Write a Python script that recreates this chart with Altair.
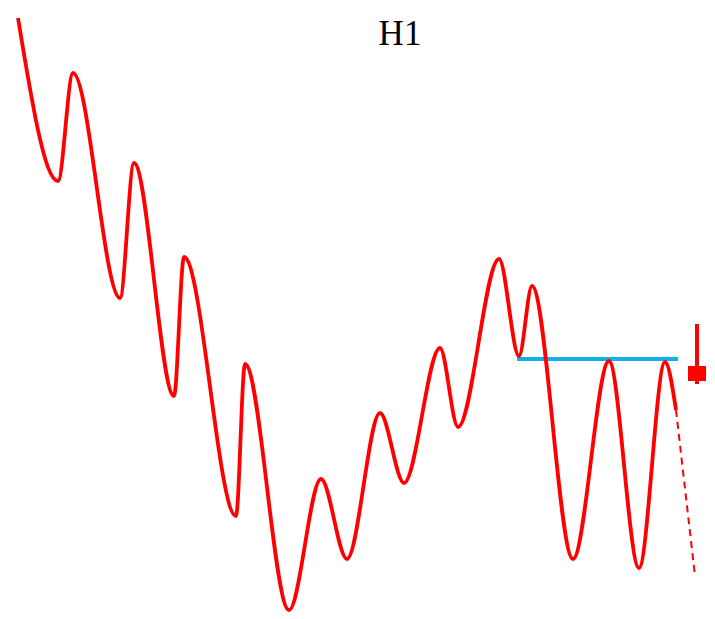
import altair as alt
import pandas as pd

# Pivot points of the price path (x = time position, y = price level, screen-like units)
path_x = [18, 58, 73, 120, 134, 174, 184, 236, 245, 289, 321, 347, 380, 404, 440, 458, 499, 519, 532, 573, 609, 639, 665, 676]
path_y = [18, 181, 73, 298, 163, 396, 257, 516, 364, 610, 479, 559, 413, 483, 348, 427, 259, 356, 286, 559, 361, 568, 362, 410]

# Projected (dashed) continuation
proj_x = [676, 695]
proj_y = [410, 576]

# Neckline level
neck_x = [517, 678]
neck_y = [359, 359]

# Sell candle marker
candle_x = [697]
candle_high = [324]
candle_low = [384]
candle_open = [366]
candle_close = [381]

W, H = 699, 600
xs = alt.Scale(domain=[8, 8 + W], nice=False, zero=False)
ys = alt.Scale(domain=[8 + H, 8], nice=False, zero=False)

path_df = pd.DataFrame({"x": path_x, "y": path_y, "o": range(len(path_x))})
proj_df = pd.DataFrame({"x": proj_x, "y": proj_y, "o": range(len(proj_x))})
neck_df = pd.DataFrame({"x": neck_x, "y": neck_y})
candle_df = pd.DataFrame({"x": candle_x, "hi": candle_high, "lo": candle_low,
                          "op": candle_open, "cl": candle_close,
                          "x1": [c - 9 for c in candle_x], "x2": [c + 9 for c in candle_x]})
title_df = pd.DataFrame({"x": [400], "y": [34], "t": ["H1"]})

X = lambda f: alt.X(f, type="quantitative", scale=xs, axis=None)
Y = lambda f: alt.Y(f, type="quantitative", scale=ys, axis=None)

line = alt.Chart(path_df).mark_line(color="#ff0000", strokeWidth=3.8, interpolate="monotone").encode(
    x=X("x"), y=Y("y"), order="o:Q")
proj = alt.Chart(proj_df).mark_line(color="#ff0000", strokeWidth=2, strokeDash=[7, 5]).encode(
    x=X("x"), y=Y("y"), order="o:Q")
neck = alt.Chart(neck_df).mark_line(color="#14aee8", strokeWidth=4).encode(x=X("x"), y=Y("y"))
wick = alt.Chart(candle_df).mark_rule(color="#ff0000", strokeWidth=4).encode(
    x=X("x"), y=Y("hi"), y2="lo")
body = alt.Chart(candle_df).mark_rect(color="#ff0000").encode(
    x=X("x1"), x2="x2", y=Y("op"), y2="cl")
title = alt.Chart(title_df).mark_text(font="'Liberation Serif', 'Times New Roman', 'DejaVu Serif', serif",
                                      fontSize=35, color="#000000",
                                      baseline="middle", align="center").encode(
    x=X("x"), y=Y("y"), text="t")

chart = alt.layer(neck, line, proj, wick, body, title).properties(
    width=W, height=H, padding={"left": 0, "top": 0, "right": 0, "bottom": 6},
    autosize=alt.AutoSizeParams(type="none")
).configure_view(stroke=None)

chart.save("out.html", embed_options={"renderer": "svg", "actions": False})
